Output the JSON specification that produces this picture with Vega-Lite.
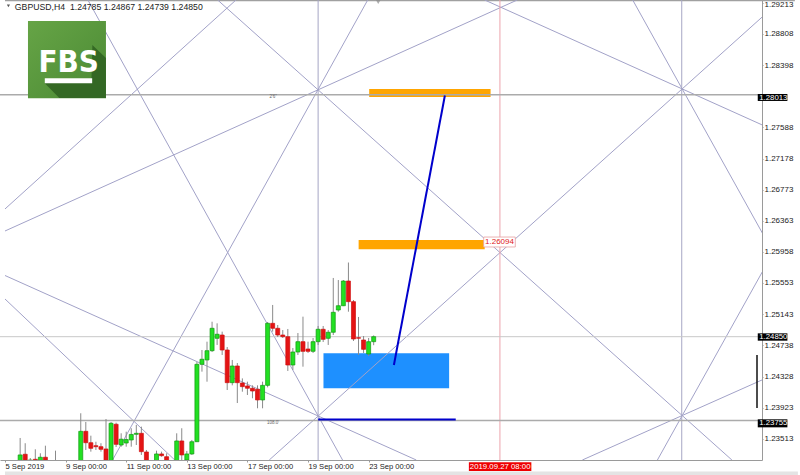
{
  "$schema": "https://vega.github.io/schema/vega-lite/v6.json",
  "width": 762,
  "height": 460,
  "autosize": {"type": "none"},
  "padding": {"left": 0, "top": 0, "right": 38, "bottom": 15},
  "background": "white",
  "config": {"view": {"stroke": null}, "font": "Liberation Sans"},
  "datasets": {
    "candles": [
      {"i":3,"o":1.23107,"h":1.23526,"l":1.2305,"c":1.23304},
      {"i":4,"o":1.23313,"h":1.23457,"l":1.2305,"c":1.23107},
      {"i":5,"o":1.23225,"h":1.23264,"l":1.2315,"c":1.23238},
      {"i":6,"o":1.23247,"h":1.23378,"l":1.2308,"c":1.23173},
      {"i":7,"o":1.23173,"h":1.23326,"l":1.2308,"c":1.23274},
      {"i":8,"o":1.23274,"h":1.23425,"l":1.2308,"c":1.23173},
      {"i":10,"o":1.2316,"h":1.2336,"l":1.2305,"c":1.23107},
      {"i":15,"o":1.23107,"h":1.23849,"l":1.2305,"c":1.23613},
      {"i":16,"o":1.23613,"h":1.23735,"l":1.23369,"c":1.23464},
      {"i":17,"o":1.23464,"h":1.23556,"l":1.23347,"c":1.23391},
      {"i":18,"o":1.23425,"h":1.23477,"l":1.23369,"c":1.23412},
      {"i":19,"o":1.23412,"h":1.23457,"l":1.23347,"c":1.23378},
      {"i":20,"o":1.23382,"h":1.23774,"l":1.2308,"c":1.23134},
      {"i":21,"o":1.23107,"h":1.23735,"l":1.2305,"c":1.23718},
      {"i":22,"o":1.23705,"h":1.23726,"l":1.23408,"c":1.23443},
      {"i":23,"o":1.23434,"h":1.23587,"l":1.23412,"c":1.2351},
      {"i":24,"o":1.2346,"h":1.23608,"l":1.23412,"c":1.23506},
      {"i":25,"o":1.235,"h":1.23653,"l":1.23412,"c":1.23572},
      {"i":26,"o":1.23574,"h":1.23696,"l":1.23434,"c":1.23587},
      {"i":27,"o":1.23587,"h":1.23674,"l":1.23304,"c":1.23347},
      {"i":28,"o":1.23343,"h":1.23369,"l":1.2308,"c":1.23134},
      {"i":30,"o":1.23134,"h":1.2336,"l":1.2308,"c":1.23317},
      {"i":31,"o":1.23317,"h":1.23347,"l":1.23281,"c":1.23294},
      {"i":32,"o":1.23281,"h":1.23326,"l":1.2308,"c":1.23134},
      {"i":34,"o":1.23107,"h":1.23587,"l":1.2305,"c":1.23487},
      {"i":35,"o":1.23487,"h":1.23653,"l":1.23238,"c":1.23304},
      {"i":36,"o":1.23238,"h":1.23356,"l":1.23212,"c":1.23317},
      {"i":37,"o":1.23317,"h":1.235,"l":1.23304,"c":1.23477},
      {"i":38,"o":1.23477,"h":1.24519,"l":1.23473,"c":1.24489},
      {"i":39,"o":1.24489,"h":1.24676,"l":1.24393,"c":1.24555},
      {"i":40,"o":1.24546,"h":1.24785,"l":1.24262,"c":1.24667},
      {"i":41,"o":1.24667,"h":1.25046,"l":1.2465,"c":1.2496},
      {"i":42,"o":1.24829,"h":1.25025,"l":1.24742,"c":1.24882},
      {"i":43,"o":1.24872,"h":1.24916,"l":1.24611,"c":1.24676},
      {"i":44,"o":1.24676,"h":1.24715,"l":1.24153,"c":1.24249},
      {"i":45,"o":1.24249,"h":1.24546,"l":1.24214,"c":1.24467},
      {"i":46,"o":1.24467,"h":1.24506,"l":1.23983,"c":1.24249},
      {"i":47,"o":1.24245,"h":1.24305,"l":1.24131,"c":1.24197},
      {"i":48,"o":1.24206,"h":1.24262,"l":1.24088,"c":1.24176},
      {"i":49,"o":1.24176,"h":1.24214,"l":1.24045,"c":1.2414},
      {"i":50,"o":1.24163,"h":1.24214,"l":1.23914,"c":1.24023},
      {"i":51,"o":1.24023,"h":1.24262,"l":1.23914,"c":1.24214},
      {"i":52,"o":1.24214,"h":1.25042,"l":1.24188,"c":1.25025},
      {"i":53,"o":1.25025,"h":1.25265,"l":1.24916,"c":1.2496},
      {"i":54,"o":1.2496,"h":1.25003,"l":1.24846,"c":1.24872},
      {"i":55,"o":1.24872,"h":1.24937,"l":1.24833,"c":1.2485},
      {"i":56,"o":1.2485,"h":1.24951,"l":1.24402,"c":1.2448},
      {"i":57,"o":1.2448,"h":1.24702,"l":1.24415,"c":1.2465},
      {"i":58,"o":1.2465,"h":1.24898,"l":1.24611,"c":1.24785},
      {"i":59,"o":1.24785,"h":1.25112,"l":1.24458,"c":1.24659},
      {"i":60,"o":1.24689,"h":1.24785,"l":1.24637,"c":1.24659},
      {"i":61,"o":1.24659,"h":1.24833,"l":1.24637,"c":1.24785},
      {"i":62,"o":1.24785,"h":1.2499,"l":1.24742,"c":1.24947},
      {"i":63,"o":1.24947,"h":1.2499,"l":1.24781,"c":1.24816},
      {"i":64,"o":1.24829,"h":1.24937,"l":1.24742,"c":1.24908},
      {"i":65,"o":1.24908,"h":1.25618,"l":1.24872,"c":1.25169},
      {"i":66,"o":1.25199,"h":1.25591,"l":1.25177,"c":1.25255},
      {"i":67,"o":1.25255,"h":1.25591,"l":1.2525,"c":1.25578},
      {"i":68,"o":1.25578,"h":1.2582,"l":1.25177,"c":1.25308},
      {"i":69,"o":1.25308,"h":1.2533,"l":1.24794,"c":1.2482},
      {"i":70,"o":1.24837,"h":1.25108,"l":1.24611,"c":1.2483},
      {"i":71,"o":1.24807,"h":1.24859,"l":1.24637,"c":1.24685},
      {"i":72,"o":1.24624,"h":1.24833,"l":1.24598,"c":1.24785},
      {"i":73,"o":1.24785,"h":1.24867,"l":1.24739,"c":1.2485}
    ],
    "gann": [
      {"x1":16.42,"p1":1.29252,"x2":66.84,"p2":1.23238},
      {"x1":45.73,"p1":1.29252,"x2":0,"p2":1.2652},
      {"x1":0,"p1":1.26232,"x2":101.43,"p2":1.29252},
      {"x1":71.82,"p1":1.29252,"x2":21.3,"p2":1.23238},
      {"x1":42.11,"p1":1.29252,"x2":143.93,"p2":1.23238},
      {"x1":94.98,"p1":1.29252,"x2":156.34,"p2":1.27428},
      {"x1":124.29,"p1":1.29252,"x2":156.34,"p2":1.25448},
      {"x1":52.32,"p1":1.23238,"x2":153.67,"p2":1.29252},
      {"x1":129.18,"p1":1.23238,"x2":156.34,"p2":1.26454},
      {"x1":114.32,"p1":1.23238,"x2":156.34,"p2":1.24474},
      {"x1":0,"p1":1.2565,"x2":81.43,"p2":1.23238},
      {"x1":0,"p1":1.25343,"x2":33.61,"p2":1.23238}
    ],
    "boxes": [
      {"x1":149.05,"x2":154.92,"p1":1.28023,"p2":1.27932,"pt":1.27977,"xt":149.35,"label":"1.28013"},
      {"x1":149.05,"x2":154.92,"p1":1.24894,"p2":1.24798,"pt":1.24846,"xt":149.35,"label":"1.24850"},
      {"x1":149.05,"x2":154.92,"p1":1.2377,"p2":1.23665,"pt":1.23718,"xt":149.35,"label":"1.23755"}
    ],
    "datebox": [
      {"x1":91.85,"x2":104.22,"p1":1.23208,"p2":1.23094,"pt":1.2315,"xt":98.05,"label":"2019.09.27 08:00"}
    ],
    "pricelabel": [
      {"x1":94.78,"x2":101.04,"p1":1.26153,"p2":1.26023,"pt":1.26088,"xt":95.05,"label":"1.26094"}
    ]
  },
  "layer": [
    {
      "data": {"values": [{"x1":0,"x2":157,"p1":1.23087,"p2":1.23029}]},
      "mark": {"type":"rect","color":"#e4e4e4","clip":false},
      "encoding": {
        "x": {"field":"x1","type":"quantitative","scale":{"domain":[0,148.9],"nice":false,"zero":false},
          "axis":{"values":[0,12,24,36,48,60,72],"tickCount":40,"labelExpr":"['5 Sep 2019','9 Sep 00:00','11 Sep 00:00','13 Sep 00:00','17 Sep 00:00','19 Sep 00:00','23 Sep 00:00'][round(datum.value/12)]","labelAlign":"left","labelBaseline":"top","labelFlush":false,"labelOverlap":false,"labelFont":"Liberation Sans","labelFontSize":7.6,"labelColor":"#222222","labelPadding":0,"tickSize":2,"tickColor":"#9a9a9a","domainColor":"#9a9a9a","grid":false,"title":null}},
        "x2": {"field":"x2"},
        "y": {"field":"p1","type":"quantitative","scale":{"domain":[1.23238,1.29252],"nice":false,"zero":false},
          "axis":{"orient":"right","values":[1.29213,1.28808,1.28398,1.27588,1.27178,1.26773,1.26363,1.25958,1.25553,1.25143,1.24738,1.24328,1.23923,1.23513],"tickCount":40,"format":".5f","labelAlign":"left","labelBaseline":"middle","labelOffset":{"condition":{"test":"datum.value > 1.292","value":1.5},"value":0},"labelFlush":false,"labelOverlap":false,"labelFont":"Liberation Sans","labelFontSize":8,"labelColor":"#222222","labelPadding":1,"tickSize":1,"tickColor":"#9a9a9a","domainColor":"#9a9a9a","grid":false,"title":null}},
        "y2": {"field":"p2"}
      }
    },
    {
      "data": {"values": [{"x1":0,"x2":156.4,"p":1.29245}]},
      "mark": {"type":"rule","color":"#a0a0a0","strokeWidth":1.5,"clip":false},
      "encoding": {
        "x": {"field":"x1","type":"quantitative"},
        "x2": {"field":"x2"},
        "y": {"field":"p","type":"quantitative"}
      }
    },
    {
      "data": {"values": [{"x1":63.06,"x2":87.94,"p1":1.24633,"p2":1.24175}]},
      "mark": {"type":"rect","color":"#1e90ff","clip":true},
      "encoding": {
        "x": {"field":"x1","type":"quantitative"},
        "x2": {"field":"x2"},
        "y": {"field":"p1","type":"quantitative"},
        "y2": {"field":"p2"}
      }
    },
    {
      "data": {"values": [{"x1":72.11,"x2":96.15,"p1":1.28088,"p2":1.27984},{"x1":70.02,"x2":94.98,"p1":1.26114,"p2":1.25993}]},
      "mark": {"type":"rect","color":"#ffa500","clip":true},
      "encoding": {
        "x": {"field":"x1","type":"quantitative"},
        "x2": {"field":"x2"},
        "y": {"field":"p1","type":"quantitative"},
        "y2": {"field":"p2"}
      }
    },
    {
      "data": {"name": "gann"},
      "mark": {"type":"rule","color":"#a2a2c8","strokeWidth":1,"clip":true},
      "encoding": {
        "x": {"field":"x1","type":"quantitative"},
        "x2": {"field":"x2"},
        "y": {"field":"p1","type":"quantitative"},
        "y2": {"field":"p2"}
      }
    },
    {
      "data": {"values": [{"x":62},{"x":134}]},
      "mark": {"type":"rule","color":"#a6a6c4","strokeWidth":1,"clip":true},
      "encoding": {
        "x": {"field":"x","type":"quantitative"}
      }
    },
    {
      "data": {"values": [{"x":98}]},
      "mark": {"type":"rule","color":"#eca4ac","strokeWidth":1,"clip":true},
      "encoding": {
        "x": {"field":"x","type":"quantitative"}
      }
    },
    {
      "data": {"values": [{"p":1.28013},{"p":1.23755}]},
      "mark": {"type":"rule","color":"#ababab","strokeWidth":1.5,"clip":true},
      "encoding": {
        "y": {"field":"p","type":"quantitative"}
      }
    },
    {
      "data": {"values": [{"p":1.2485}]},
      "mark": {"type":"rule","color":"#c8c8c8","strokeWidth":1,"clip":true},
      "encoding": {
        "y": {"field":"p","type":"quantitative"}
      }
    },
    {
      "data": {"name": "candles"},
      "mark": {"type":"rule","color":"#8a8a8a","strokeWidth":1,"clip":true},
      "encoding": {
        "x": {"field":"i","type":"quantitative"},
        "y": {"field":"l","type":"quantitative"},
        "y2": {"field":"h"}
      }
    },
    {
      "data": {"name": "candles"},
      "mark": {"type":"bar","size":4,"strokeWidth":0.7,"clip":true},
      "encoding": {
        "x": {"field":"i","type":"quantitative"},
        "y": {"field":"o","type":"quantitative"},
        "y2": {"field":"c"},
        "color": {"condition":{"test":"datum.c >= datum.o","value":"#22e022"},"value":"#e41414"},
        "stroke": {"condition":{"test":"datum.c >= datum.o","value":"#109a10"},"value":"#d01010"}
      }
    },
    {
      "data": {"values": [{"x1":77.0,"p1":1.2448,"x2":87.1,"p2":1.28003},{"x1":62.01,"p1":1.23768,"x2":89.25,"p2":1.23768}]},
      "mark": {"type":"rule","color":"#0000cc","strokeWidth":2,"clip":true},
      "encoding": {
        "x": {"field":"x1","type":"quantitative"},
        "x2": {"field":"x2"},
        "y": {"field":"p1","type":"quantitative"},
        "y2": {"field":"p2"}
      }
    },
    {
      "data": {"values": [{"x1":4.55,"x2":19.99,"p1":1.28977,"p2":1.27967}]},
      "mark": {"type":"rect","clip":true,"color":{"gradient":"linear","x1":0,"y1":0,"x2":1,"y2":1,"stops":[{"offset":0,"color":"#66a446"},{"offset":1,"color":"#4b8a34"}]}},
      "encoding": {
        "x": {"field":"x1","type":"quantitative"},
        "x2": {"field":"x2"},
        "y": {"field":"p1","type":"quantitative"},
        "y2": {"field":"p2"}
      }
    },
    {
      "data": {"values": [
        {"x":7.82,"pt":1.28167,"pb":1.28167},
        {"x":10.75,"pt":1.28167,"pb":1.27971},
        {"x":17.1,"pt":1.28167,"pb":1.27971},
        {"x":17.3,"pt":1.28664,"pb":1.27971},
        {"x":19.99,"pt":1.28494,"pb":1.27971}
      ]},
      "mark": {"type":"area","color":"#2f6221","opacity":0.85,"clip":true},
      "encoding": {
        "x": {"field":"x","type":"quantitative"},
        "y": {"field":"pt","type":"quantitative"},
        "y2": {"field":"pb"}
      }
    },
    {
      "data": {"values": [{"x":12.6,"p":1.28311,"t":"FBS"}]},
      "mark": {"type":"text","color":"white","font":"Liberation Sans Narrow, DejaVu Sans Condensed, Liberation Sans, sans-serif","fontWeight":"bold","fontSize":31,"align":"center","baseline":"alphabetic","clip":false},
      "encoding": {
        "x": {"field":"x","type":"quantitative"},
        "y": {"field":"p","type":"quantitative"},
        "text": {"field":"t"}
      }
    },
    {
      "data": {"values": [{"x1":7.88,"x2":17.26,"p1":1.28228,"p2":1.28163}]},
      "mark": {"type":"rect","color":"white","clip":true},
      "encoding": {
        "x": {"field":"x1","type":"quantitative"},
        "x2": {"field":"x2"},
        "y": {"field":"p1","type":"quantitative"},
        "y2": {"field":"p2"}
      }
    },
    {
      "data": {"values": [{"x":1.95,"p":1.2916,"t":"GBPUSD,H4\u00a0 1.24785 1.24867 1.24739 1.24850"}]},
      "mark": {"type":"text","color":"#222222","font":"Liberation Sans","fontSize":8.7,"align":"left","baseline":"middle","clip":false},
      "encoding": {
        "x": {"field":"x","type":"quantitative"},
        "y": {"field":"p","type":"quantitative"},
        "text": {"field":"t"}
      }
    },
    {
      "data": {"values": [{"x":0.68,"p":1.29176}]},
      "mark": {"type":"point","shape":"triangle-down","filled":true,"color":"#111111","size":10,"clip":false},
      "encoding": {
        "x": {"field":"x","type":"quantitative"},
        "y": {"field":"p","type":"quantitative"}
      }
    },
    {
      "data": {"values": [{"x":73.9,"p":1.29228}]},
      "mark": {"type":"point","shape":"triangle-down","filled":true,"color":"#8c8c8c","size":24,"clip":false},
      "encoding": {
        "x": {"field":"x","type":"quantitative"},
        "y": {"field":"p","type":"quantitative"}
      }
    },
    {
      "data": {"values": [{"x":53.1,"p":1.2798,"t":"2'6\""},{"x":53.1,"p":1.23728,"t":"108.0'"}]},
      "mark": {"type":"text","color":"#666666","font":"Liberation Sans","fontSize":4.5,"align":"center","baseline":"middle","clip":true},
      "encoding": {
        "x": {"field":"x","type":"quantitative"},
        "y": {"field":"p","type":"quantitative"},
        "text": {"field":"t"}
      }
    },
    {
      "data": {"name": "pricelabel"},
      "mark": {"type":"rect","color":"white","stroke":"#e6a0a0","strokeWidth":0.8,"clip":true},
      "encoding": {
        "x": {"field":"x1","type":"quantitative"},
        "x2": {"field":"x2"},
        "y": {"field":"p1","type":"quantitative"},
        "y2": {"field":"p2"}
      }
    },
    {
      "data": {"name": "pricelabel"},
      "mark": {"type":"text","color":"#e02020","font":"Liberation Sans","fontSize":8,"align":"left","baseline":"middle","clip":false},
      "encoding": {
        "x": {"field":"xt","type":"quantitative"},
        "y": {"field":"pt","type":"quantitative"},
        "text": {"field":"label"}
      }
    },
    {
      "data": {"values": [{"x":148.9,"p1":1.24611,"p2":1.23918}]},
      "mark": {"type":"rule","color":"#111111","strokeWidth":1.5,"clip":false},
      "encoding": {
        "x": {"field":"x","type":"quantitative"},
        "y": {"field":"p1","type":"quantitative"},
        "y2": {"field":"p2"}
      }
    },
    {
      "data": {"name": "boxes"},
      "mark": {"type":"rect","color":"#000000","clip":false},
      "encoding": {
        "x": {"field":"x1","type":"quantitative"},
        "x2": {"field":"x2"},
        "y": {"field":"p1","type":"quantitative"},
        "y2": {"field":"p2"}
      }
    },
    {
      "data": {"name": "boxes"},
      "mark": {"type":"text","color":"white","font":"Liberation Sans","fontSize":7.8,"align":"left","baseline":"middle","clip":false},
      "encoding": {
        "x": {"field":"xt","type":"quantitative"},
        "y": {"field":"pt","type":"quantitative"},
        "text": {"field":"label"}
      }
    },
    {
      "data": {"name": "datebox"},
      "mark": {"type":"rect","color":"#ee0000","clip":false},
      "encoding": {
        "x": {"field":"x1","type":"quantitative"},
        "x2": {"field":"x2"},
        "y": {"field":"p1","type":"quantitative"},
        "y2": {"field":"p2"}
      }
    },
    {
      "data": {"name": "datebox"},
      "mark": {"type":"text","color":"white","font":"Liberation Sans","fontSize":7.8,"align":"center","baseline":"middle","clip":false},
      "encoding": {
        "x": {"field":"xt","type":"quantitative"},
        "y": {"field":"pt","type":"quantitative"},
        "text": {"field":"label"}
      }
    }
  ]
}
